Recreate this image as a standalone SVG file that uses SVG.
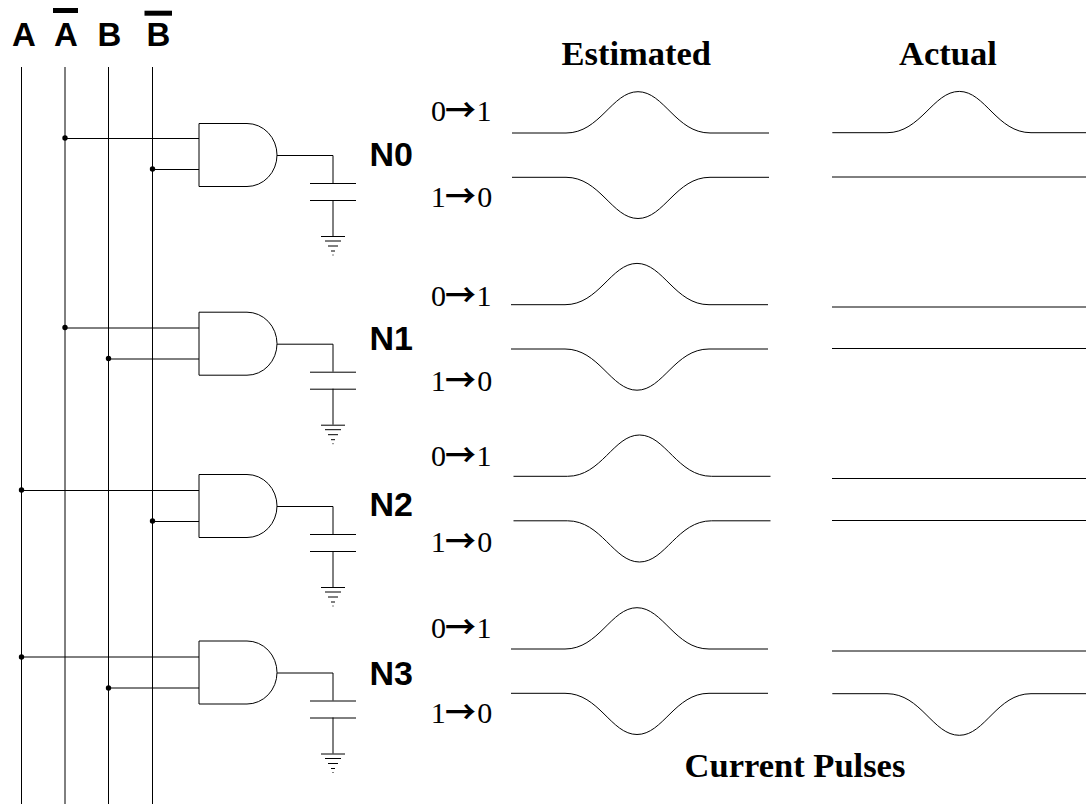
<svg xmlns="http://www.w3.org/2000/svg" width="1086" height="804" viewBox="0 0 1086 804">
<style>
.w{fill:none;stroke:#000;stroke-width:1}
.d{fill:#000;stroke:none}
.sans{font-family:"Liberation Sans",Arial,sans-serif;font-weight:bold;font-size:33px;fill:#000}
.n{font-size:34px}
.ser{font-family:"Liberation Serif","Times New Roman",serif;font-size:30px;fill:#000}
.title{font-family:"Liberation Serif","Times New Roman",serif;font-weight:bold;font-size:34.500px;fill:#000}
.arr{font-family:"Noto Sans CJK SC",sans-serif;font-size:31px;font-weight:700}
</style>
<defs>
<g id="gate"><path class="w" d="M199 123.500H247A30 31.500 0 0 1 247 186.500H199Z"/>
<path class="w" d="M277 155.500H333V183M310 183.500H356M310 200.500H356M333 200V236M321 236.500H345M325 241H341M328 246H338M331 251H335M332.500 255H333.500"/></g>
<path id="up" class="w" d="M512 133H566C600 133 612 91.700 638 91.700C664 91.700 676 133 710 133H769"/>
<path id="dn" class="w" d="M512 177.300H566C600 177.300 612 218.500 638 218.500C664 218.500 676 177.300 710 177.300H769"/>
</defs>
<g id="buses"><path class="w" d="M21.500 67V804M65 67V804M108.500 67V804M152.500 67V804"/></g>
<g id="bus-labels">
<text class="sans" x="12" y="46">A</text>
<text class="sans" x="54" y="46">A</text>
<text class="sans" x="97.600" y="46">B</text>
<text class="sans" x="146.600" y="46">B</text>
<rect class="d" x="53" y="8" width="25" height="5"/>
<rect class="d" x="144.500" y="10.700" width="27.500" height="5"/>
</g>
<g id="connectors">
<path class="w" d="M65 138.500H199M152.500 169.500H199M65 328H199M108.500 359H199M21.500 490.500H199M152.500 521.500H199M21.500 657H199M108.500 688H199"/>
<circle class="d" cx="65" cy="138" r="2.700"/><circle class="d" cx="152.500" cy="169" r="2.700"/>
<circle class="d" cx="65" cy="327.500" r="2.700"/><circle class="d" cx="108.500" cy="358.500" r="2.700"/>
<circle class="d" cx="21.500" cy="490" r="2.700"/><circle class="d" cx="152.500" cy="521" r="2.700"/>
<circle class="d" cx="21.500" cy="657" r="2.700"/><circle class="d" cx="108.500" cy="688" r="2.700"/>
</g>
<g id="N0"><use href="#gate"/><text class="sans n" x="369.500" y="166">N0</text></g>
<g id="N1"><use href="#gate" y="188.700"/><text class="sans n" x="369.500" y="350">N1</text></g>
<g id="N2"><use href="#gate" y="351"/><text class="sans n" x="369.500" y="515.500">N2</text></g>
<g id="N3"><use href="#gate" y="517.500"/><text class="sans n" x="369.500" y="685">N3</text></g>
<g id="labels">
<text class="ser" y="120.700"><tspan x="431">0</tspan><tspan class="arr" x="445">→</tspan><tspan x="476.500">1</tspan></text>
<text class="ser" y="206.700"><tspan x="430.700">1</tspan><tspan class="arr" x="445">→</tspan><tspan x="477.300">0</tspan></text>
<text class="ser" y="305.700"><tspan x="431">0</tspan><tspan class="arr" x="445">→</tspan><tspan x="476.500">1</tspan></text>
<text class="ser" y="391"><tspan x="430.700">1</tspan><tspan class="arr" x="445">→</tspan><tspan x="477.300">0</tspan></text>
<text class="ser" y="466"><tspan x="431">0</tspan><tspan class="arr" x="445">→</tspan><tspan x="476.500">1</tspan></text>
<text class="ser" y="551.700"><tspan x="430.700">1</tspan><tspan class="arr" x="445">→</tspan><tspan x="477.300">0</tspan></text>
<text class="ser" y="638.300"><tspan x="431">0</tspan><tspan class="arr" x="445">→</tspan><tspan x="476.500">1</tspan></text>
<text class="ser" y="723.300"><tspan x="430.700">1</tspan><tspan class="arr" x="445">→</tspan><tspan x="477.300">0</tspan></text>
<text class="title" x="561.500" y="65">Estimated</text>
<text class="title" x="899" y="65">Actual</text>
<text class="title" x="684.600" y="776.500">Current Pulses</text>
</g>
<g id="waves">
<use href="#up"/><use href="#dn"/>
<use href="#up" x="-1" y="171.700"/><use href="#dn" x="-1" y="171.700"/>
<use href="#up" x="1.500" y="343.300"/><use href="#dn" x="1.500" y="343.500"/>
<use href="#up" x="-1" y="516"/><use href="#dn" x="-1" y="516"/>
<path class="w" d="M832.300 132.700H887C921 132.700 933 91.400 959.300 91.400C985 91.400 997 132.700 1031 132.700H1086"/>
<path class="w" d="M832 177H1086M832 307H1086M832 348.500H1086M832 478.500H1086M832 520.500H1086M832 651H1086"/>
<path class="w" d="M832.300 693.700H887C921 693.700 933 735.300 959.300 735.300C985 735.300 997 693.700 1031 693.700H1086"/>
</g>
</svg>
